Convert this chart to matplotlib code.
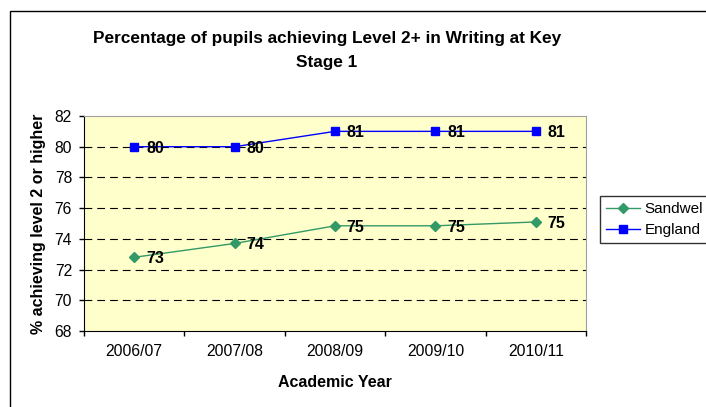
import matplotlib.pyplot as plt
import matplotlib.patches as mpatches
import numpy as np

years = ['2006/07', '2007/08', '2008/09', '2009/10', '2010/11']
sandwell = [72.8, 73.7, 74.85, 74.85, 75.1]
sandwell_labels = ['73', '74', '75', '75', '75']
england = [80, 80, 81, 81, 81]
england_labels = ['80', '80', '81', '81', '81']

green = '#339966'
blue = '#0000FF'


def main():
    plt.rcParams['font.family'] = ['Liberation Sans', 'DejaVu Sans']

    W, H = 706, 407
    fig = plt.figure(figsize=(W / 100, H / 100), dpi=100)

    # rand luar grafik (terpotong di kanan dan bawah)
    fig.add_artist(mpatches.Rectangle((10 / W, -0.2), 1.5, 1.2 - 11 / H,
                                      transform=fig.transFigure, fill=False,
                                      edgecolor='black', linewidth=1.0))

    left, right, top, bottom = 84, 586, 116, 331
    ax = fig.add_axes([left / W, 1 - bottom / H, (right - left) / W, (bottom - top) / H])
    ax.set_facecolor('#FFFFCC')

    x = np.arange(len(years))
    ax.plot(x, sandwell, color=green, marker='D', markersize=5, linewidth=1.0, label='Sandwel')
    ax.plot(x, england, color=blue, marker='s', markersize=6, linewidth=1.0, label='England')

    for xi, yi, t in zip(x, sandwell, sandwell_labels):
        ax.annotate(t, (xi, yi), xytext=(8.5, -1), textcoords='offset points',
                    ha='left', va='center', fontsize=11.5, fontweight='bold')
    for xi, yi, t in zip(x, england, england_labels):
        ax.annotate(t, (xi, yi), xytext=(8.5, -1), textcoords='offset points',
                    ha='left', va='center', fontsize=11.5, fontweight='bold')

    ax.set_xlim(-0.5, len(years) - 0.5)
    ax.set_ylim(68, 82)
    ax.set_yticks(np.arange(68, 83, 2))
    ax.set_xticks(x)
    ax.set_xticklabels(years)
    ax.set_xticks(np.arange(-0.5, len(years)), minor=True)
    ax.tick_params(axis='x', which='major', length=0, pad=9, labelsize=11.3)
    ax.tick_params(axis='x', which='minor', length=3.6, direction='out', width=1)
    ax.tick_params(axis='y', length=3.6, direction='out', width=1, pad=5, labelsize=11.3)

    for v in range(70, 82, 2):
        ax.axhline(v, color='black', linestyle=(0, (7, 4.5)), linewidth=0.8, zorder=0.5)

    for s in ['top', 'right']:
        ax.spines[s].set_color('#A0A0A0')
    for s in ['left', 'bottom']:
        ax.spines[s].set_color('black')

    ax.set_xlabel('Academic Year', fontsize=11.5, fontweight='bold', labelpad=12)
    ax.set_ylabel('% achieving level 2 or higher', fontsize=11.5, fontweight='bold', labelpad=6)

    fig.text(327 / W, 1 - 38 / H,
             'Percentage of pupils achieving Level 2+ in Writing at Key',
             ha='center', va='center', fontsize=12.4, fontweight='bold')
    fig.text(327 / W, 1 - 62 / H, 'Stage 1',
             ha='center', va='center', fontsize=12.4, fontweight='bold')

    leg = fig.legend(loc='upper left', bbox_to_anchor=(600 / W, 1 - 196 / H),
                     fontsize=11, frameon=True, fancybox=False, edgecolor='black',
                     borderaxespad=0, handlelength=2.2, handletextpad=0.3,
                     borderpad=0.4, labelspacing=0.45)
    leg.get_frame().set_linewidth(1.0)

    plt.savefig('out.png', dpi=100)


if __name__ == '__main__':
    main()
